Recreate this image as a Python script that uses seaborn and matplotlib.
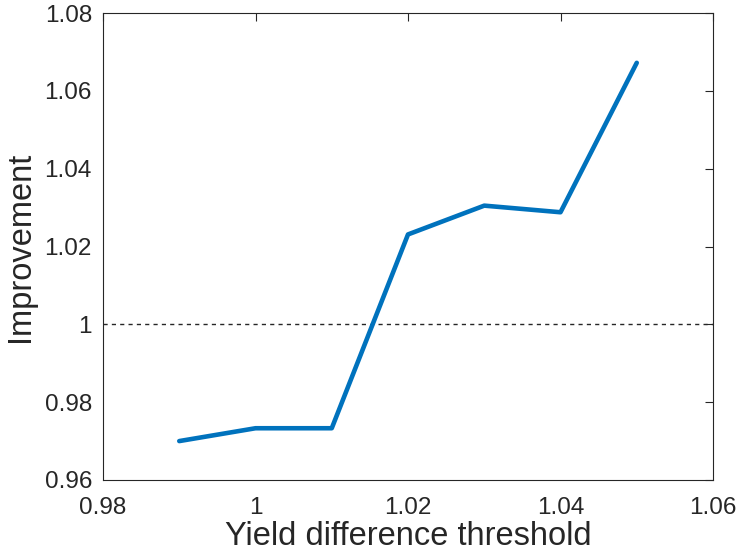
"""
Improvement vs. yield difference threshold
"""
import pandas as pd
import matplotlib.pyplot as plt
import seaborn as sns

thresholds = [0.99, 1.00, 1.01, 1.02, 1.03, 1.04, 1.05]
improvement = [0.9700, 0.9733, 0.9733, 1.0231, 1.0305, 1.0288, 1.0672]
x_ticks = [0.98, 1.00, 1.02, 1.04, 1.06]
x_tick_labels = ["0.98", "1", "1.02", "1.04", "1.06"]
y_ticks = [0.96, 0.98, 1.00, 1.02, 1.04, 1.06, 1.08]
y_tick_labels = ["0.96", "0.98", "1", "1.02", "1.04", "1.06", "1.08"]

sns.set_style("white")
plt.rcParams["font.family"] = ["Liberation Sans", "DejaVu Sans"]

df = pd.DataFrame({"threshold": thresholds, "improvement": improvement})

fig = plt.figure(figsize=(7.4, 5.59), dpi=100)
ax = fig.add_axes([103 / 740, 79 / 559, 610 / 740, 467 / 559])

# 기준선 (improvement = 1)
ax.axhline(1.0, color="#262626", linestyle=(0, (3, 3)), linewidth=1.0, zorder=1)
sns.lineplot(data=df, x="threshold", y="improvement", ax=ax,
             color="#0072BD", linewidth=3.3, zorder=2)

ax.set_xlim(0.98, 1.06)
ax.set_ylim(0.96, 1.08)
ax.set_xticks(x_ticks)
ax.set_xticklabels(x_tick_labels)
ax.set_yticks(y_ticks)
ax.set_yticklabels(y_tick_labels)
ax.tick_params(direction="in", length=6, width=0.8, colors="#262626",
               labelsize=17.5, top=True, right=True)
ax.tick_params(axis="y", pad=8)
ax.tick_params(axis="x", pad=12)
for s in ax.spines.values():
    s.set_color("#262626")
    s.set_linewidth(0.8)
    s.set_visible(True)

ax.set_xlabel("Yield difference threshold", fontsize=23.5, color="#262626", labelpad=2)
ax.set_ylabel("Improvement", fontsize=23.5, color="#262626", labelpad=6)

fig.savefig("out.png", dpi=100)
